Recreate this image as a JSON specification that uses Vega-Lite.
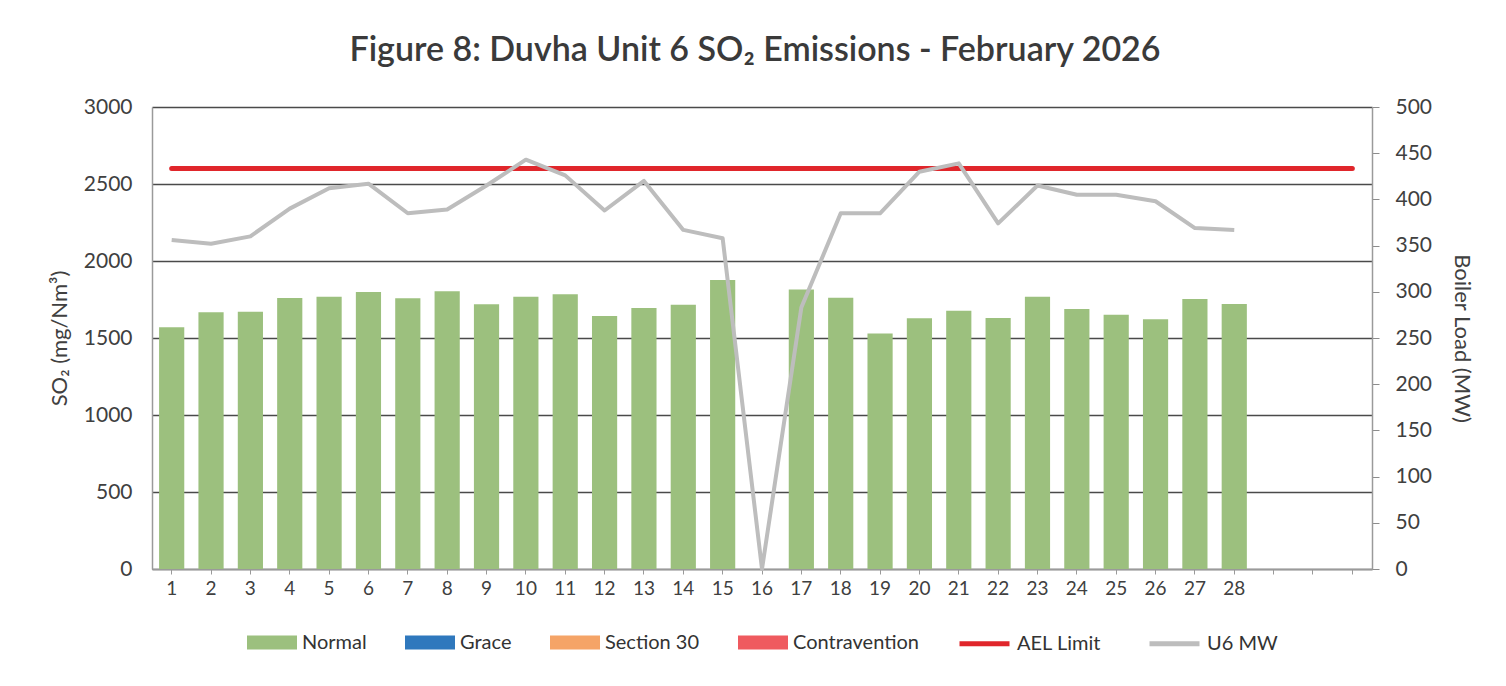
{
  "$schema": "https://vega.github.io/schema/vega-lite/v6.json",
  "width": 1220,
  "height": 462,
  "autosize": {"type": "none"},
  "padding": {"left": 152, "top": 107, "right": 134, "bottom": 117},
  "background": "white",
  "title": {
    "text": "Figure 8: Duvha Unit 6 SO₂ Emissions - February 2026",
    "fontSize": 34,
    "fontWeight": 600,
    "color": "#3a3a3a",
    "anchor": "middle",
    "offset": 28,
    "dx": -7
  },
  "config": {
    "font": "Lato",
    "view": {"stroke": null},
    "legend": {
      "layout": {"bottom": {"anchor": "middle", "direction": "horizontal", "margin": 38, "center": true}}
    }
  },
  "data": {
    "values": [
      {"day": 1, "status": "Normal", "so2": 1570, "ael": 2600, "mw": 356},
      {"day": 2, "status": "Normal", "so2": 1667, "ael": 2600, "mw": 352},
      {"day": 3, "status": "Normal", "so2": 1671, "ael": 2600, "mw": 360},
      {"day": 4, "status": "Normal", "so2": 1760, "ael": 2600, "mw": 390},
      {"day": 5, "status": "Normal", "so2": 1768, "ael": 2600, "mw": 412},
      {"day": 6, "status": "Normal", "so2": 1799, "ael": 2600, "mw": 417},
      {"day": 7, "status": "Normal", "so2": 1758, "ael": 2600, "mw": 385},
      {"day": 8, "status": "Normal", "so2": 1803, "ael": 2600, "mw": 389},
      {"day": 9, "status": "Normal", "so2": 1719, "ael": 2600, "mw": 415},
      {"day": 10, "status": "Normal", "so2": 1768, "ael": 2600, "mw": 443},
      {"day": 11, "status": "Normal", "so2": 1784, "ael": 2600, "mw": 426},
      {"day": 12, "status": "Normal", "so2": 1643, "ael": 2600, "mw": 388},
      {"day": 13, "status": "Normal", "so2": 1695, "ael": 2600, "mw": 420},
      {"day": 14, "status": "Normal", "so2": 1716, "ael": 2600, "mw": 367},
      {"day": 15, "status": "Normal", "so2": 1877, "ael": 2600, "mw": 358},
      {"day": 16, "status": "Normal", "so2": null, "ael": 2600, "mw": 0},
      {"day": 17, "status": "Normal", "so2": 1815, "ael": 2600, "mw": 283},
      {"day": 18, "status": "Normal", "so2": 1762, "ael": 2600, "mw": 385},
      {"day": 19, "status": "Normal", "so2": 1530, "ael": 2600, "mw": 385},
      {"day": 20, "status": "Normal", "so2": 1628, "ael": 2600, "mw": 430},
      {"day": 21, "status": "Normal", "so2": 1677, "ael": 2600, "mw": 439},
      {"day": 22, "status": "Normal", "so2": 1630, "ael": 2600, "mw": 374},
      {"day": 23, "status": "Normal", "so2": 1768, "ael": 2600, "mw": 415},
      {"day": 24, "status": "Normal", "so2": 1688, "ael": 2600, "mw": 405},
      {"day": 25, "status": "Normal", "so2": 1651, "ael": 2600, "mw": 405},
      {"day": 26, "status": "Normal", "so2": 1621, "ael": 2600, "mw": 398},
      {"day": 27, "status": "Normal", "so2": 1753, "ael": 2600, "mw": 369},
      {"day": 28, "status": "Normal", "so2": 1721, "ael": 2600, "mw": 367},
      {"day": 29, "status": "Normal", "so2": null, "ael": 2600, "mw": null},
      {"day": 30, "status": "Normal", "so2": null, "ael": 2600, "mw": null},
      {"day": 31, "status": "Normal", "so2": null, "ael": 2600, "mw": null}
    ]
  },
  "encoding": {
    "x": {
      "field": "day",
      "type": "ordinal",
      "scale": {
        "domain": [1, 2, 3, 4, 5, 6, 7, 8, 9, 10, 11, 12, 13, 14, 15, 16, 17, 18, 19, 20, 21, 22, 23, 24, 25, 26, 27, 28, 29, 30, 31],
        "paddingInner": 0.36,
        "paddingOuter": 0.18
      },
      "axis": {
        "title": null,
        "labelAngle": 0,
        "labelFontSize": 19,
        "labelColor": "#404040",
        "labelPadding": 5,
        "labelExpr": "datum.value > 28 ? '' : datum.label",
        "ticks": true,
        "tickSize": 5,
        "tickColor": "#9a9a9a",
        "domainColor": "#9a9a9a",
        "domainWidth": 1.5,
        "grid": false
      }
    }
  },
  "layer": [
    {
      "layer": [
        {
          "mark": {"type": "bar"},
          "encoding": {
            "y": {
              "field": "so2",
              "type": "quantitative",
              "scale": {"domain": [0, 3000], "nice": false},
              "axis": {
                "title": "SO₂  (mg/Nm³)",
                "titleFontSize": 22,
                "titleFontWeight": "normal",
                "titleColor": "#404040",
                "titlePadding": 12,
                "values": [0, 500, 1000, 1500, 2000, 2500, 3000],
                "format": "d",
                "labelFontSize": 21,
                "labelColor": "#404040",
                "labelPadding": 20,
                "ticks": false,
                "domain": true,
                "domainColor": "#9a9a9a",
                "domainWidth": 1.5,
                "grid": true,
                "gridColor": "#4a4a4a",
                "gridWidth": 1.3
              }
            },
            "color": {
              "field": "status",
              "type": "nominal",
              "scale": {
                "domain": ["Normal", "Grace", "Section 30", "Contravention"],
                "range": ["#9cc07e", "#2f78bd", "#f5a467", "#ef5a5f"]
              },
              "legend": {
                "title": null,
                "orient": "bottom",
                "direction": "horizontal",
                "offset": 18,
                "symbolType": "M-1,-0.28H1V0.28H-1Z",
                "symbolSize": 2500,
                "symbolStrokeWidth": 0,
                "symbolOpacity": 1,
                "labelFontSize": 20,
                "labelColor": "#333333",
                "labelOffset": 5,
                "columnPadding": 38
              }
            }
          }
        },
        {
          "mark": {"type": "line", "strokeWidth": 5, "strokeCap": "round"},
          "encoding": {
            "y": {"field": "ael", "type": "quantitative"},
            "stroke": {
              "datum": "AEL Limit",
              "type": "nominal",
              "scale": {"domain": ["AEL Limit", "U6 MW"], "range": ["#e0262b", "#bdbdbd"]},
              "legend": {
                "title": null,
                "orient": "bottom",
                "direction": "horizontal",
                "offset": 18,
                "symbolType": "stroke",
                "symbolSize": 2500,
                "symbolStrokeWidth": 5,
                "labelFontSize": 20,
                "labelColor": "#333333",
                "labelOffset": 5,
                "columnPadding": 38
              }
            }
          }
        }
      ]
    },
    {
      "mark": {"type": "line", "strokeWidth": 4, "strokeJoin": "round"},
      "encoding": {
        "y": {
          "field": "mw",
          "type": "quantitative",
          "scale": {"domain": [0, 500], "nice": false},
          "axis": {
            "title": "Boiler Load (MW)",
            "titleFontSize": 22,
            "titleFontWeight": "normal",
            "titleColor": "#404040",
            "titlePadding": 18,
            "values": [0, 50, 100, 150, 200, 250, 300, 350, 400, 450, 500],
            "format": "d",
            "labelFontSize": 21,
            "labelColor": "#404040",
            "labelPadding": 16,
            "ticks": true,
            "tickSize": 7,
            "tickColor": "#8c8c8c",
            "domain": true,
            "domainColor": "#9a9a9a",
            "domainWidth": 1.5,
            "grid": false
          }
        },
        "stroke": {"datum": "U6 MW", "type": "nominal"}
      }
    }
  ],
  "resolve": {"scale": {"y": "independent"}}
}
